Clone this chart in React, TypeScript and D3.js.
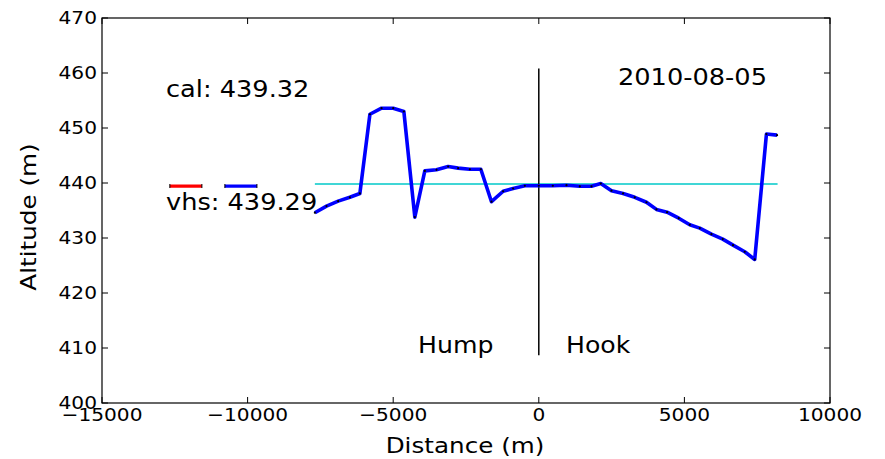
import React from 'react';
import * as d3 from 'd3';

// profile along the glacier (distance in m, altitude in m)
const distance = [-7690, -7290, -6890, -6489, -6145, -5800, -5400, -5000, -4634, -4257, -3914, -3513, -3113, -2770, -2369, -1991, -1625, -1224, -882, -480, 0, 480, 951, 1407, 1809, 2128, 2496, 2894, 3296, 3697, 4040, 4405, 4806, 5184, 5527, 5928, 6317, 6670, 7072, 7415, 7817, 8182];
const altitude = [434.6, 435.8, 436.7, 437.4, 438.1, 452.5, 453.6, 453.6, 453.0, 433.8, 442.2, 442.4, 443.0, 442.7, 442.5, 442.5, 436.6, 438.5, 439.0, 439.5, 439.5, 439.5, 439.6, 439.4, 439.4, 439.9, 438.6, 438.1, 437.4, 436.5, 435.2, 434.7, 433.6, 432.4, 431.8, 430.7, 429.8, 428.7, 427.5, 426.1, 448.9, 448.7];

const refX = [-7690, 8200];
const refY = 439.8;
const calX = [-12670, -11570];
const vhsX = [-10780, -9680];
const markY = 439.45;
const dividerY = [408.7, 460.8];

const xTicks = [-15000, -10000, -5000, 0, 5000, 10000];
const yTicks = [400, 410, 420, 430, 440, 450, 460, 470];

const W = 885;
const H = 459;
const FONT = 'DejaVu Sans, sans-serif';
const SX = 1.12;

function Txt(props: { x: number; y: number; size: number; anchor?: string; children: React.ReactNode; rotate?: boolean; dy?: string; sx?: number }) {
  const s = props.sx || SX;
  const t = props.rotate
    ? `translate(${props.x},${props.y}) rotate(-90) scale(${s},1)`
    : `translate(${props.x},${props.y}) scale(${s},1)`;
  return (
    <text transform={t} fontSize={props.size} fontFamily={FONT} textAnchor={props.anchor || 'start'} dy={props.dy} fill="#000">
      {props.children}
    </text>
  );
}

export default function App() {
  const x = d3.scaleLinear().domain([-15000, 10000]).range([102, 830]);
  const y = d3.scaleLinear().domain([400, 470]).range([403, 18]);

  const line = d3.line<number>().x((d, i) => x(distance[i])).y(d => y(d));
  const pts = altitude.map((a, i) => [x(distance[i]), y(a)]);

  return (
    <svg width={W} height={H} style={{ position: 'absolute', left: 0, top: 0, background: '#fff' }}>
      {/* reference level */}
      <line x1={x(refX[0])} x2={x(refX[1])} y1={y(refY)} y2={y(refY)} stroke="#00c8c8" strokeWidth={1.5} />
      {/* legend-ish marks */}
      <line x1={x(calX[0])} x2={x(calX[1])} y1={y(markY)} y2={y(markY)} stroke="#ff0000" strokeWidth={3.2} />
      <line x1={x(vhsX[0])} x2={x(vhsX[1])} y1={y(markY)} y2={y(markY)} stroke="#0000ff" strokeWidth={3.2} />
      {[calX[0], calX[1], vhsX[0], vhsX[1]].map((v, i) => (
        <line key={i} x1={x(v)} x2={x(v)} y1={y(markY) - 2} y2={y(markY) + 2} stroke="#000" strokeWidth={1} />
      ))}
      {/* hump / hook divider */}
      <line x1={x(0)} x2={x(0)} y1={y(dividerY[0])} y2={y(dividerY[1])} stroke="#000" strokeWidth={1.5} />
      {/* profile */}
      <path d={line(altitude) || ''} fill="none" stroke="#0000ff" strokeWidth={3.6} strokeLinejoin="round" />
      {pts.map((p, i) => (
        <circle key={i} cx={p[0]} cy={p[1]} r={1.1} fill="#000" />
      ))}

      {/* frame */}
      <rect x={102} y={18} width={728} height={385} fill="none" stroke="#000" strokeWidth={1.2} />
      {xTicks.map(t => (
        <g key={'x' + t}>
          <line x1={x(t)} x2={x(t)} y1={403} y2={397} stroke="#000" />
          <line x1={x(t)} x2={x(t)} y1={18} y2={24} stroke="#000" />
          <Txt x={x(t)} y={421} size={18} anchor="middle">{t < 0 ? '\u2212' + Math.abs(t) : String(t)}</Txt>
        </g>
      ))}
      {yTicks.map(t => (
        <g key={'y' + t}>
          <line x1={102} x2={108} y1={y(t)} y2={y(t)} stroke="#000" />
          <line x1={830} x2={824} y1={y(t)} y2={y(t)} stroke="#000" />
          <Txt x={97} y={y(t)} size={18} anchor="end" dy="0.36em">{String(t)}</Txt>
        </g>
      ))}

      <Txt x={465} y={453} size={22} anchor="middle">Distance (m)</Txt>
      <Txt x={36} y={217} size={22} anchor="middle" rotate>Altitude (m)</Txt>

      <Txt x={166} y={97} size={22.5} sx={1.14}>cal: 439.32</Txt>
      <Txt x={166} y={210} size={22.5} sx={1.14}>vhs: 439.29</Txt>
      <Txt x={618} y={85} size={22.5} sx={1.14}>2010-08-05</Txt>
      <Txt x={418} y={353} size={22.5} sx={1.12}>Hump</Txt>
      <Txt x={566} y={353} size={22.5} sx={1.12}>Hook</Txt>
    </svg>
  );
}
